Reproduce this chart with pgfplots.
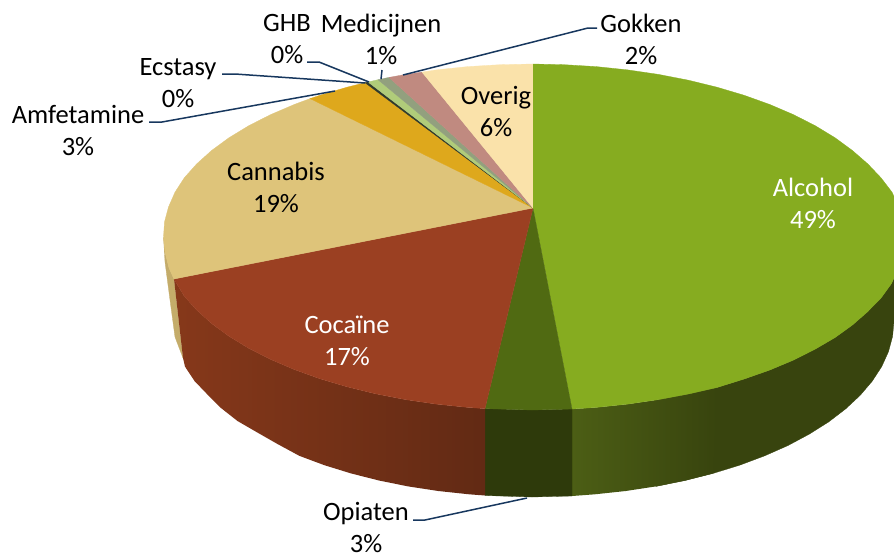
\documentclass[border=0pt]{standalone}
\usepackage{pgfplots}
\usepackage{fontspec}
\setmainfont{Carlito}
\pgfplotsset{compat=1.18}
\definecolor{alc}{RGB}{134,172,32}
\definecolor{opi}{RGB}{80,106,18}
\definecolor{coc}{RGB}{155,64,34}
\definecolor{can}{RGB}{222,196,122}
\definecolor{amf}{RGB}{222,168,28}
\definecolor{ecs}{RGB}{48,58,44}
\definecolor{ghb}{RGB}{176,204,122}
\definecolor{med}{RGB}{146,160,126}
\definecolor{gok}{RGB}{192,138,128}
\definecolor{ove}{RGB}{250,226,170}
\definecolor{alcwA}{RGB}{76,94,21}
\definecolor{alcwB}{RGB}{56,68,14}
\definecolor{alcwC}{RGB}{56,68,14}
\definecolor{opiw}{RGB}{46,58,11}
\definecolor{cocwA}{RGB}{134,56,26}
\definecolor{cocwB}{RGB}{98,42,20}
\definecolor{canw}{RGB}{196,172,106}
\definecolor{lead}{RGB}{23,55,94}
\tikzset{
  lbl/.style={align=center, text=black, inner sep=0pt, font=\fontsize{26.5}{32}\selectfont},
  wlbl/.style={lbl, text=white},
  leader/.style={draw=lead, line width=1.5pt},
}
\begin{document}
\begin{tikzpicture}
\begin{axis}[
  hide axis, scale only axis, width=894pt, height=558pt,
  xmin=0, xmax=894, ymin=0, ymax=558, y dir=reverse,
  every axis plot/.append style={line join=round},
]
% side walls
\addplot[fill=canw, draw=canw, line width=0.3pt] coordinates {(174,279)(169,268)(165,252)(163.5,237)(165,262)(170,300)(175,337)(183,358)} --cycle;
\addplot[fill=alcwC, draw=alcwC, line width=0.3pt] coordinates {(902,237)(900.6,252.1)(898,269)(891.5,283.5)(881,298)(867.3,312)(852.4,325)(835.1,337.5)(815.4,349)(793.6,360)(769.8,370)(744.2,379)(717,387.5)(688.4,394)(658.5,399.6)(655.8,486.4)(685,480.5)(713,473.4)(739.6,465.2)(764.7,455.8)(788,445.5)(809.3,434.1)(828.5,422)(845.5,409)(860.1,395.4)(872.2,381.2)(881.7,366.6)(888.5,351.6)(892.6,336.3)(894,321)} --cycle;
\addplot[draw=none, left color=alcwA, right color=alcwB] coordinates {(717,387.5)(688.4,394)(658.5,399.6)(627.8,404.1)(596.2,407.4)(572,409)(572,496)(594.9,494.3)(625.7,491)(655.8,486.4)(685,480.5)(713,473.4)} --cycle;
\addplot[fill=opiw, draw=opiw, line width=0.3pt] coordinates {(572,409)(532,410)(485,408.6)(485,495.5)(532,497)(572,496)} --cycle;
\addplot[draw=none, left color=cocwA, right color=cocwB] coordinates {(485,408.6)(467.8,407.4)(436.2,404.1)(405.5,399.6)(375.6,393.8)(347,386.8)(319.8,378.7)(294.2,369.5)(270.4,359.3)(248.6,348.2)(228.9,336.2)(211.6,323.5)(196.7,310.1)(184.3,296.2)(177,284)(174,279)(183,358)(185,366.6)(194.5,381)(206.5,393.5)(221,408)(237.5,421)(256.5,432)(277.5,444)(299.3,455.8)(324.4,465.2)(351,473.4)(379,480.5)(408.2,486.4)(438.3,491)(469.1,494.3)(485,495.5)} --cycle;
% top slices
\addplot[fill=alc, draw=alc, line width=0.3pt] coordinates {(533,208)(533,64)(564.3,64.7)(596.2,66.6)(627.8,69.9)(658.5,74.4)(688.4,80.2)(717,87.2)(744.2,95.3)(769.8,104.5)(793.6,114.7)(815.4,125.8)(835.1,137.8)(852.4,150.5)(867.8,163.9)(881,177.8)(892,192.2)(899,207)(901.5,221.9)(902,237)(900.6,252.1)(898,269)(891.5,283.5)(881,298)(867.3,312)(852.4,325)(835.1,337.5)(815.4,349)(793.6,360)(769.8,370)(744.2,379)(717,387.5)(688.4,394)(658.5,399.6)(627.8,404.1)(596.2,407.4)(572,409)} --cycle;
\addplot[fill=opi, draw=opi, line width=0.3pt] coordinates {(533,208)(572,409)(532,410)(485,408.6)} --cycle;
\addplot[fill=coc, draw=coc, line width=0.3pt] coordinates {(533,208)(485,408.6)(467.8,407.4)(436.2,404.1)(405.5,399.6)(375.6,393.8)(347,386.8)(319.8,378.7)(294.2,369.5)(270.4,359.3)(248.6,348.2)(228.9,336.2)(211.6,323.5)(196.7,310.1)(184.3,296.2)(177,284)(174,279)} --cycle;
\addplot[fill=can, draw=can, line width=0.3pt] coordinates {(533,208)(174,279)(169,268)(165,252)(163.5,237)(164.5,222)(168.5,207)(175,192.2)(184.3,177.8)(196.7,163.9)(211.6,150.5)(228.9,137.8)(248.6,125.8)(270.4,114.7)(294.2,104.5)(310,98.6)} --cycle;
\addplot[fill=amf, draw=amf, line width=0.3pt] coordinates {(533,208)(310,98.6)(319.8,95.3)(347,87.2)(365,82.7)} --cycle;
\addplot[fill=ecs, draw=ecs, line width=0.3pt] coordinates {(533,208)(365,82.7)(368,82)} --cycle;
\addplot[fill=ghb, draw=ghb, line width=0.3pt] coordinates {(533,208)(368,82)(378,79.7)} --cycle;
\addplot[fill=med, draw=med, line width=0.3pt] coordinates {(533,208)(378,79.7)(389,77.4)} --cycle;
\addplot[fill=gok, draw=gok, line width=0.3pt] coordinates {(533,208)(389,77.4)(405.5,74.4)(422,72.1)} --cycle;
\addplot[fill=ove, draw=ove, line width=0.3pt] coordinates {(533,208)(422,72.1)(436.2,69.9)(467.8,66.6)(499.7,64.7)(533,64)} --cycle;
\addplot[fill=alc, draw=alc, line width=0.3pt] coordinates {(533,208)(533,64)(534,64)(534,208)} --cycle;
% leader lines
\addplot[leader] coordinates {(403,75)(588,28)(597,28)};
\addplot[leader] coordinates {(382,70)(381,79)};
\addplot[leader] coordinates {(307,62)(319,62)(369,82)};
\addplot[leader] coordinates {(222,74)(235,74)(365,83)};
\addplot[leader] coordinates {(149,122)(162,122)(335,91)};
\addplot[leader] coordinates {(413,520)(425,520)(527,498)};
% labels
\node[wlbl] at (axis cs:813,203.5) {Alcohol\\49\%};
\node[lbl] at (axis cs:496,111) {Overig\\6\%};
\node[lbl] at (axis cs:276,187) {Cannabis\\19\%};
\node[wlbl] at (axis cs:347,341) {Cocaïne\\17\%};
\node[lbl] at (axis cs:366,527.5) {Opiaten\\3\%};
\node[lbl] at (axis cs:78,130) {Amfetamine\\3\%};
\node[lbl] at (axis cs:178,83) {Ecstasy\\0\%};
\node[lbl] at (axis cs:287,39.5) {GHB\\0\%};
\node[lbl] at (axis cs:381,39.5) {Medicijnen\\1\%};
\node[lbl] at (axis cs:641,39.5) {Gokken\\2\%};
\path (axis cs:0,0) rectangle (axis cs:894,558);
\end{axis}
\end{tikzpicture}
\end{document}
